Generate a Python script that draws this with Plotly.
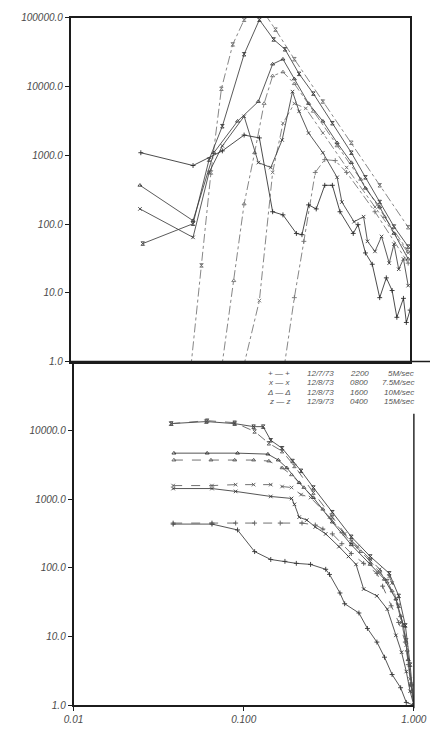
import plotly.graph_objects as go

# ---------------- upper panel: wave spectra ----------------
# measured spectra (solid)
f_m5 = [0.0259, 0.0526, 0.0783, 0.1052, 0.1294, 0.1549, 0.1782, 0.2138, 0.2306, 0.2523, 0.2799, 0.3141,
        0.3484, 0.3864, 0.4624, 0.4932, 0.5457, 0.5984, 0.6622, 0.7244, 0.7834, 0.8356, 0.9141, 0.9505, 1.0]
s_m5 = [1090, 710, 1160, 1970, 1790, 151, 136, 73, 70, 190, 166, 366,
        366, 151, 73, 98, 38, 26, 8.5, 16.5, 10.8, 4.4, 8.3, 3.7, 5.6]

f_m75 = [0.0256, 0.0526, 0.0654, 0.0783, 0.1052, 0.1276, 0.1511, 0.1762, 0.2028, 0.2218, 0.2523, 0.3062,
         0.3715, 0.3963, 0.4677, 0.5321, 0.5610, 0.6209, 0.6792, 0.7534, 0.8035, 0.8570, 0.9141, 0.9747]
s_m75 = [166, 64, 563, 1370, 3690, 784, 664, 1670, 8430, 4360, 2110, 1090,
         478, 209, 108, 128, 56, 40, 66, 27, 51, 22, 31, 12.7]

f_m10 = [0.0256, 0.0526, 0.0698, 0.0962, 0.1276, 0.1549, 0.1782, 0.2080, 0.2523, 0.3062, 0.3715, 0.4508,
         0.5457, 0.6622, 0.8035, 0.9747]
s_m10 = [366, 112, 1090, 3130, 6050, 21200, 25000, 12900, 5670, 3130, 1520, 784,
         332, 177, 73, 31]

f_m15 = [0.0266, 0.0526, 0.0654, 0.0783, 0.1052, 0.1294, 0.1571, 0.1832, 0.2218, 0.2692, 0.3484, 0.4508,
         0.5457, 0.6622, 0.8035, 0.9747]
s_m15 = [52, 101, 865, 2650, 29500, 93600, 48400, 34800, 15300, 7890, 2930, 1090,
         478, 209, 92, 47]

# model spectra (dash-dot)
f_t15 = [0.0510, 0.0590, 0.0671, 0.0773, 0.0902, 0.1052, 0.1213, 0.1380, 0.1611, 0.2080, 0.3062, 0.4508,
         0.6622, 0.9747]
s_t15 = [0.8, 25, 563, 9290, 41000, 93600, 118000, 118000, 67300, 25000, 6050, 1520, 366, 90]

f_t10 = [0.0775, 0.0914, 0.1052, 0.1213, 0.1380, 0.1549, 0.1782, 0.2080, 0.2692, 0.3715, 0.5117, 0.7063,
         0.9747]
s_t10 = [0.8, 15, 196, 1090, 5670, 14300, 16300, 11000, 4360, 1370, 447, 128, 40]

f_t75 = [0.1039, 0.1294, 0.1549, 0.1782, 0.2080, 0.2429, 0.3062, 0.4227, 0.6209, 0.9747]
s_t75 = [0.8, 7.7, 563, 2930, 5670, 4810, 2110, 664, 177, 38]

f_t5 = [0.1807, 0.2080, 0.2366, 0.2761, 0.3141, 0.3623, 0.4227, 0.6209, 0.9747]
s_t5 = [0.8, 8.5, 56, 563, 865, 837, 563, 151, 27]

# ---------------- lower panel: cumulative curves ----------------
f_b15s = [0.0375, 0.0603, 0.0885, 0.1144, 0.1301, 0.1442, 0.1681, 0.1936, 0.2173, 0.2567, 0.3318, 0.4290,
          0.5543, 0.7164, 0.8144, 0.8910, 0.9500, 1.0]
s_b15s = [12500, 13400, 12500, 11300, 11300, 7150, 5480, 3570, 2570, 1470, 643, 282,
          146, 83, 39, 14.5, 3.9, 1.0]
f_b15d = [0.0375, 0.0610, 0.0885, 0.1159, 0.1405, 0.1681, 0.1987, 0.2567, 0.3318, 0.4290, 0.5543, 0.6982,
          0.8144, 0.9024, 0.9623, 1.0]
s_b15d = [12500, 13800, 12900, 9610, 6470, 4970, 3030, 1240, 545, 239, 124, 64,
          28, 8.8, 2.0, 1.0]

f_b10s = [0.0389, 0.0610, 0.0920, 0.1387, 0.1597, 0.1792, 0.2118, 0.2567, 0.3318, 0.4290, 0.5543, 0.6720,
          0.7838, 0.8685, 0.9260, 1.0]
s_b10s = [4650, 4650, 4650, 4500, 3690, 2840, 1730, 1050, 462, 216, 112, 68,
          35, 14.5, 4.6, 1.0]
f_b10d = [0.0389, 0.0642, 0.0885, 0.1144, 0.1405, 0.1681, 0.1911, 0.2258, 0.2919, 0.3773, 0.4875, 0.6300,
          0.7445, 0.8356, 0.9140, 0.9623, 1.0]
s_b10d = [3690, 3690, 3690, 3690, 3570, 2840, 2250, 1470, 710, 332, 172, 89,
          46, 20, 6.3, 2.0, 1.0]

f_b75d = [0.0385, 0.0651, 0.0897, 0.1144, 0.1442, 0.1681, 0.1911, 0.2173, 0.2471, 0.3193, 0.3920, 0.4692,
          0.5543, 0.6300, 0.7164, 0.7445, 0.8464, 0.9024, 0.9500, 1.0]
s_b75d = [1570, 1570, 1620, 1620, 1620, 1520, 1470, 1160, 1050, 545, 311, 203,
          132, 95, 75, 60, 16, 7.5, 2.4, 1.0]
f_b75s = [0.0385, 0.0651, 0.0897, 0.1442, 0.1911, 0.1987, 0.2118, 0.2348, 0.2634, 0.3033, 0.3630, 0.4127,
          0.4571, 0.5068, 0.6064, 0.6982, 0.7838, 0.8464, 0.9024, 0.9500, 1.0]
s_b75s = [1420, 1420, 1290, 1090, 1020, 837, 545, 494, 392, 311, 203, 146,
          112, 49, 39, 25, 10.4, 5.9, 3.1, 1.6, 1.0]

f_b5d = [0.0385, 0.0651, 0.0897, 0.1159, 0.1639, 0.2201, 0.2634, 0.2919, 0.3318, 0.3773, 0.4290, 0.5068,
         0.6064, 0.6549, 0.7350, 0.8144, 0.8910, 0.9260, 0.9623, 1.0]
s_b5d = [447, 447, 447, 447, 447, 447, 419, 366, 311, 224, 161, 116,
         83, 54, 28, 16, 8.3, 3.9, 2.0, 1.0]
f_b5s = [0.0385, 0.0651, 0.0920, 0.1159, 0.1442, 0.1747, 0.2038, 0.2471, 0.3033, 0.3193, 0.3677, 0.3920,
         0.4753, 0.5334, 0.6064, 0.6720, 0.7445, 0.8356, 0.9024, 1.0]
s_b5s = [432, 432, 355, 172, 132, 124, 116, 112, 95, 80, 43, 30,
         22, 13.1, 8.3, 5.0, 2.8, 1.8, 1.1, 1.0]

# axis ticks
y_tickvals = [1, 10, 100, 1000, 10000, 100000]
y_ticktext_top = ["1.0", "10.0", "100.0", "1000.0", "10000.0", "100000.0"]
y_tickvals_bot = [1, 10, 100, 1000, 10000]
y_ticktext_bot = ["1.0", "10.0", "100.0", "1000.0", "10000.0"]
x_tickvals = [0.01, 0.1, 1.0]
x_ticktext = ["0.01", "0.100", "1.000"]

# key rows
legend_marks = ["+ — +", "x — x", "Δ — Δ", "z — z"]
legend_dates = ["12/7/73", "12/8/73", "12/8/73", "12/9/73"]
legend_times = ["2200", "0800", "1600", "0400"]
legend_speeds = ["5M/sec", "7.5M/sec", "10M/sec", "15M/sec"]

SYM = {"5": "cross-thin-open", "75": "x-thin-open", "10": "triangle-up-open", "15": "hourglass-open"}

fig = go.Figure()


def add(x, y, key, dash, color, xa, ya, width=0.85, size=3.5):
    fig.add_trace(go.Scatter(
        x=x, y=y, mode="lines+markers", xaxis=xa, yaxis=ya,
        line=dict(color=color, width=width, dash=dash),
        marker=dict(symbol=SYM[key], size=size, color=color, line=dict(color=color, width=0.9)),
        showlegend=False, hoverinfo="skip"))


# upper panel
add(f_t15, s_t15, "15", "dashdot", "#707070", "x", "y")
add(f_t10, s_t10, "10", "dashdot", "#707070", "x", "y")
add(f_t75, s_t75, "75", "dashdot", "#707070", "x", "y")
add(f_t5, s_t5, "5", "dashdot", "#707070", "x", "y")
add(f_m15, s_m15, "15", "solid", "#3c3c3c", "x", "y")
add(f_m10, s_m10, "10", "solid", "#3c3c3c", "x", "y")
add(f_m75, s_m75, "75", "solid", "#3c3c3c", "x", "y")
add(f_m5, s_m5, "5", "solid", "#2c2c2c", "x", "y")

# lower panel
add(f_b15s, s_b15s, "15", "solid", "#363636", "x2", "y2")
add(f_b15d, s_b15d, "15", "dash", "#585858", "x2", "y2")
add(f_b10s, s_b10s, "10", "solid", "#363636", "x2", "y2")
add(f_b10d, s_b10d, "10", "dash", "#585858", "x2", "y2")
add(f_b75s, s_b75s, "75", "solid", "#363636", "x2", "y2")
add(f_b75d, s_b75d, "75", "dash", "#585858", "x2", "y2")
add(f_b5s, s_b5s, "5", "solid", "#363636", "x2", "y2")
add(f_b5d, s_b5d, "5", "dash", "#585858", "x2", "y2")

W, H = 443, 729
tick_font = dict(family="Liberation Sans", size=10, color="#4a4a4a", style="italic")
AX = "#1c1c1c"

fig.update_layout(
    width=W, height=H, margin=dict(l=0, r=0, t=0, b=0),
    paper_bgcolor="white", plot_bgcolor="white",
    xaxis=dict(type="log", range=[-2, 0], domain=[64 / W, 422 / W], anchor="y",
               showticklabels=False, ticks="", showgrid=False, zeroline=False,
               showline=True, linecolor=AX, linewidth=1.6, mirror=True),
    yaxis=dict(type="log", range=[0, 5], domain=[1 - 362 / H, 1 - 13 / H], anchor="x",
               tickvals=y_tickvals, ticktext=y_ticktext_top, ticks="outside", ticklen=4,
               tickcolor=AX, tickfont=tick_font, showgrid=False, zeroline=False,
               showline=True, linecolor=AX, linewidth=1.6, mirror=True),
    xaxis2=dict(type="log", range=[-2, 0], domain=[67 / W, 426 / W], anchor="y2",
                tickvals=x_tickvals, ticktext=x_ticktext, ticks="outside", ticklen=4,
                tickcolor=AX, tickfont=tick_font, showgrid=False, zeroline=False,
                showline=True, linecolor=AX, linewidth=1.6),
    yaxis2=dict(type="log", range=[0, 5], domain=[1 - 711 / H, 1 - 362 / H], anchor="x2",
                tickvals=y_tickvals_bot, ticktext=y_ticktext_bot, ticks="outside", ticklen=4,
                tickcolor=AX, tickfont=tick_font, showgrid=False, zeroline=False,
                showline=True, linecolor=AX, linewidth=1.6),
)

# frame of the lower panel: top edge runs to the page edge, right edge below the key
fig.add_shape(type="line", xref="paper", yref="paper", x0=64 / W, x1=1.0,
              y0=1 - 362 / H, y1=1 - 362 / H, line=dict(color=AX, width=1.6))
fig.add_shape(type="line", xref="paper", yref="paper", x0=426 / W, x1=426 / W,
              y0=1 - 415 / H, y1=1 - 714 / H, line=dict(color=AX, width=1.4))

# key
leg_font = dict(family="Liberation Sans", size=8, color="#555555", style="italic")
row_y = [374, 383.5, 393, 402.5]
for i in range(4):
    yy = 1 - row_y[i] / H
    fig.add_annotation(x=284 / W, y=yy, xref="paper", yref="paper", text=legend_marks[i],
                       showarrow=False, font=leg_font, xanchor="center", yanchor="middle")
    fig.add_annotation(x=311 / W, y=yy, xref="paper", yref="paper", text=legend_dates[i],
                       showarrow=False, font=leg_font, xanchor="left", yanchor="middle")
    fig.add_annotation(x=356 / W, y=yy, xref="paper", yref="paper", text=legend_times[i],
                       showarrow=False, font=leg_font, xanchor="left", yanchor="middle")
    fig.add_annotation(x=428 / W, y=yy, xref="paper", yref="paper", text=legend_speeds[i],
                       showarrow=False, font=leg_font, xanchor="right", yanchor="middle")

fig.write_html("out.html")
